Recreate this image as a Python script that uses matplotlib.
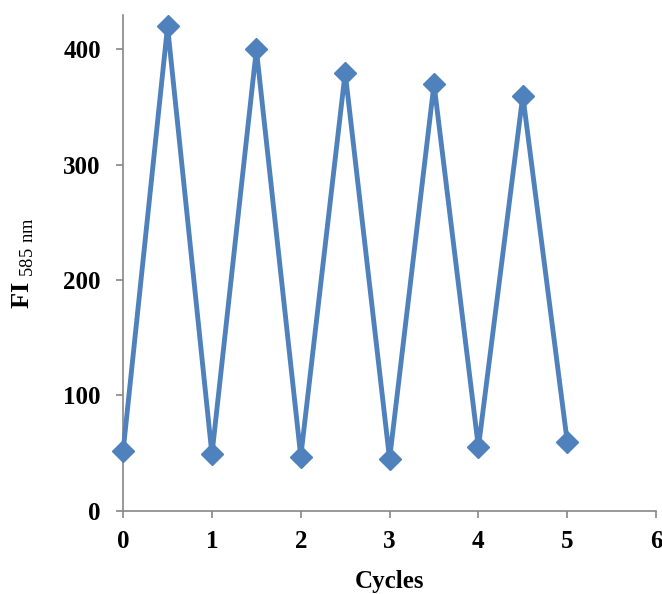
import matplotlib.pyplot as plt

cycles = [0, 0.5, 1, 1.5, 2, 2.5, 3, 3.5, 4, 4.5, 5]
fi = [52, 420, 49, 400, 47, 380, 45, 370, 55, 360, 60]

plt.rcParams['font.family'] = 'Liberation Serif'
plt.rcParams['mathtext.fontset'] = 'custom'
plt.rcParams['mathtext.rm'] = 'Liberation Serif'
plt.rcParams['mathtext.bf'] = 'Liberation Serif:bold'

fig = plt.figure(figsize=(6.62, 5.94), dpi=100)
ax = fig.add_axes([0.186, 0.140, 0.805, 0.835])

ax.plot(cycles, fi, color='#4F81BD', lw=3.5, marker='D', ms=11, clip_on=False, zorder=3)

ax.set_xlim(0, 6)
ax.set_ylim(0, 430)
ax.set_xticks(range(7))
ax.set_yticks([0, 100, 200, 300, 400])

for s in ['top', 'right']:
    ax.spines[s].set_visible(False)
for s in ['left', 'bottom']:
    ax.spines[s].set_color('#868686')
    ax.spines[s].set_linewidth(1.2)
ax.tick_params(direction='out', length=5, color='#868686', width=1.2,
               labelsize=18)
ax.tick_params(axis='y', pad=11)
ax.tick_params(axis='x', pad=9)
for lab in ax.get_xticklabels() + ax.get_yticklabels():
    lab.set_fontweight('bold')

ax.set_xlabel('Cycles', fontsize=18, fontweight='bold', labelpad=12)
ax.set_ylabel(r'$\mathbf{FI}_{\mathrm{\ 585\ nm}}$', fontsize=19, labelpad=20)

fig.savefig('out.png', dpi=100)
